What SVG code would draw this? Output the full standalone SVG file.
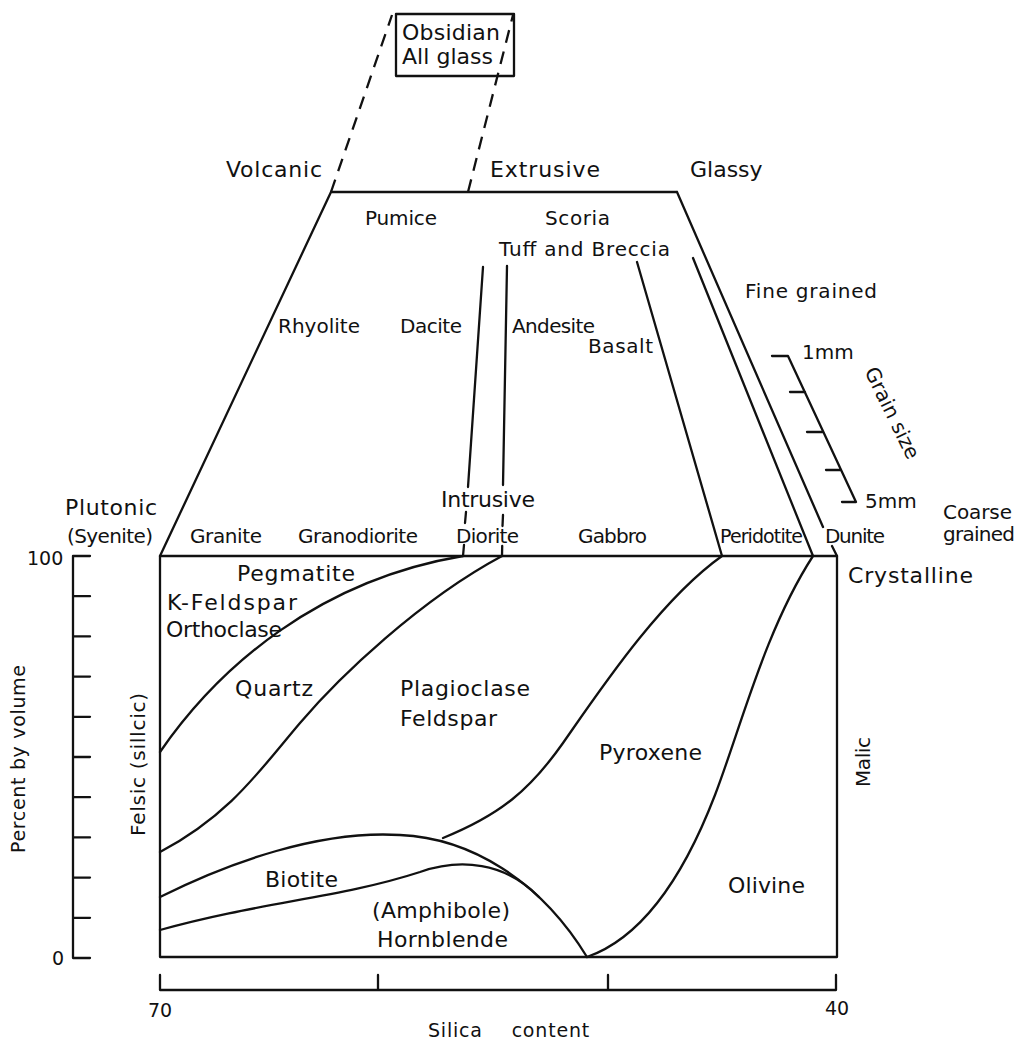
<svg xmlns="http://www.w3.org/2000/svg" width="1021" height="1041" viewBox="0 0 1021 1041">
<style>
.ln{fill:none;stroke:#111;stroke-width:2.3;stroke-linecap:round;stroke-linejoin:round}
.ds{fill:none;stroke:#111;stroke-width:2.3;stroke-dasharray:13 9}
text{font-family:"DejaVu Sans","Liberation Sans",sans-serif;fill:#111}
.b{font-size:22px}
.m{font-size:20px}
.s{font-size:19px}
</style>
<rect width="1021" height="1041" fill="#fff"/>
<g id="connectors">
<path class="ds" d="M331,192 L392,15 M468,192 L513,15"/>
<path class="ln" d="M331,192 L677,192 M331,192 L160,556 M677,192 L823,527 M832,546 L837,556 M693,258 L813,556 M637,262 L722,556"/>
<path class="ln" d="M483,267 L468,487 M466,512 L465,523 M464,545 L463,556 M507,266 L503,485 M503,515 L502.5,526 M502.2,546 L502,556"/>
<path class="ln" d="M160,556 L837,556 L837,957 L160,957 Z"/>
<path class="ln" d="M160,752 C220,665 320,580 463,556"/>
<path class="ln" d="M160,852 C230,815 260,770 300,723 C340,676 420,600 502,556"/>
<path class="ln" d="M160,897 C230,862 320,830 400,835 C470,838 540,880 587,957"/>
<path class="ln" d="M160,930 C260,902 340,898 420,872 C460,858 505,862 539,897"/>
<path class="ln" d="M443,838 C500,815 530,790 563,743 C600,690 660,600 722,556"/>
<path class="ln" d="M587,957 C650,935 690,860 715,795 C740,730 765,630 813,556"/>
</g>
<g id="obsidian">
<rect x="396" y="14" width="118" height="62" class="ln"/>
<text class="b" x="402" y="40" textLength="98">Obsidian</text>
<text class="b" x="402" y="64" textLength="91">All glass</text>
</g>
<g id="grain-scale">
<path class="ln" d="M772,356 L788,356 L856,502 L842,502 M790,392 L805,392 M807,432 L823,432 M826,470 L841,470"/>
<text class="m" x="802" y="359">1mm</text>
<text class="m" x="865" y="508">5mm</text>
<text class="m" transform="translate(886,416) rotate(64)" text-anchor="middle">Grain size</text>
</g>
<g id="volcanic-labels">
<text class="b" x="226" y="177" textLength="96">Volcanic</text>
<text class="b" x="490" y="177" textLength="110">Extrusive</text>
<text class="b" x="690" y="177">Glassy</text>
<text class="m" x="365" y="225" textLength="72">Pumice</text>
<text class="m" x="545" y="225" textLength="65">Scoria</text>
<text class="m" x="499" y="256" textLength="171">Tuff and Breccia</text>
<text class="m" x="278" y="333" textLength="82">Rhyolite</text>
<text class="m" x="400" y="333" textLength="62">Dacite</text>
<text class="m" x="512" y="333" textLength="83">Andesite</text>
<text class="m" x="588" y="353" textLength="65">Basalt</text>
<text class="m" x="745" y="298" textLength="132">Fine grained</text>
</g>
<g id="plutonic-labels">
<text class="b" x="65" y="515" textLength="92">Plutonic</text>
<text class="m" x="67" y="543" textLength="86">(Syenite)</text>
<text class="m" x="190" y="543" textLength="72">Granite</text>
<text class="m" x="298" y="543" textLength="120">Granodiorite</text>
<text class="b" x="441" y="507" textLength="94">Intrusive</text>
<text class="m" x="456" y="543" textLength="63">Diorite</text>
<text class="m" x="578" y="543" textLength="69">Gabbro</text>
<text class="m" x="720" y="543" textLength="83" style="font-size:19px">Peridotite</text>
<text class="m" x="825" y="543" textLength="60">Dunite</text>
<text class="m" x="943" y="519" textLength="69">Coarse</text>
<text class="m" x="943" y="541" textLength="72">grained</text>
<text class="b" x="848" y="583" textLength="125">Crystalline</text>
</g>
<g id="minerals">
<text class="b" x="237" y="581" textLength="118">Pegmatite</text>
<text class="b" x="167" y="610" textLength="130">K-Feldspar</text>
<text class="b" x="166" y="637" textLength="116">Orthoclase</text>
<text class="b" x="235" y="696" textLength="78">Quartz</text>
<text class="b" x="400" y="696" textLength="130">Plagioclase</text>
<text class="b" x="400" y="726" textLength="97">Feldspar</text>
<text class="b" x="599" y="760" textLength="103">Pyroxene</text>
<text class="b" x="265" y="887" textLength="73">Biotite</text>
<text class="b" x="372" y="918" textLength="138">(Amphibole)</text>
<text class="b" x="377" y="947" textLength="131">Hornblende</text>
<text class="b" x="728" y="893" textLength="77">Olivine</text>
<text class="m" transform="translate(870,787) rotate(-90)" textLength="50">Malic</text>
<text class="m" transform="translate(145,836) rotate(-90)" textLength="143">Felsic (sillcic)</text>
</g>
<g id="axes">
<path class="ln" d="M73,556 L73,958 M73,556 L90,556 M73,596.2 L90,596.2 M73,636.4 L90,636.4 M73,676.6 L90,676.6 M73,716.8 L90,716.8 M73,757 L90,757 M73,797.2 L90,797.2 M73,837.4 L90,837.4 M73,877.6 L90,877.6 M73,917.8 L90,917.8 M73,958 L90,958"/>
<path class="ln" d="M160,975 L160,990 L836,990 L836,975 M378,975 L378,990 M608,975 L608,990"/>
<text class="s" x="27" y="565">100</text>
<text class="s" x="52" y="965">0</text>
<text class="s" x="148" y="1017">70</text>
<text class="s" x="825" y="1015">40</text>
<text class="s" x="428" y="1037" style="word-spacing:22px;letter-spacing:0.8px">Silica content</text>
<text class="s" transform="translate(25,853) rotate(-90)" textLength="188">Percent by volume</text>
</g>
</svg>
